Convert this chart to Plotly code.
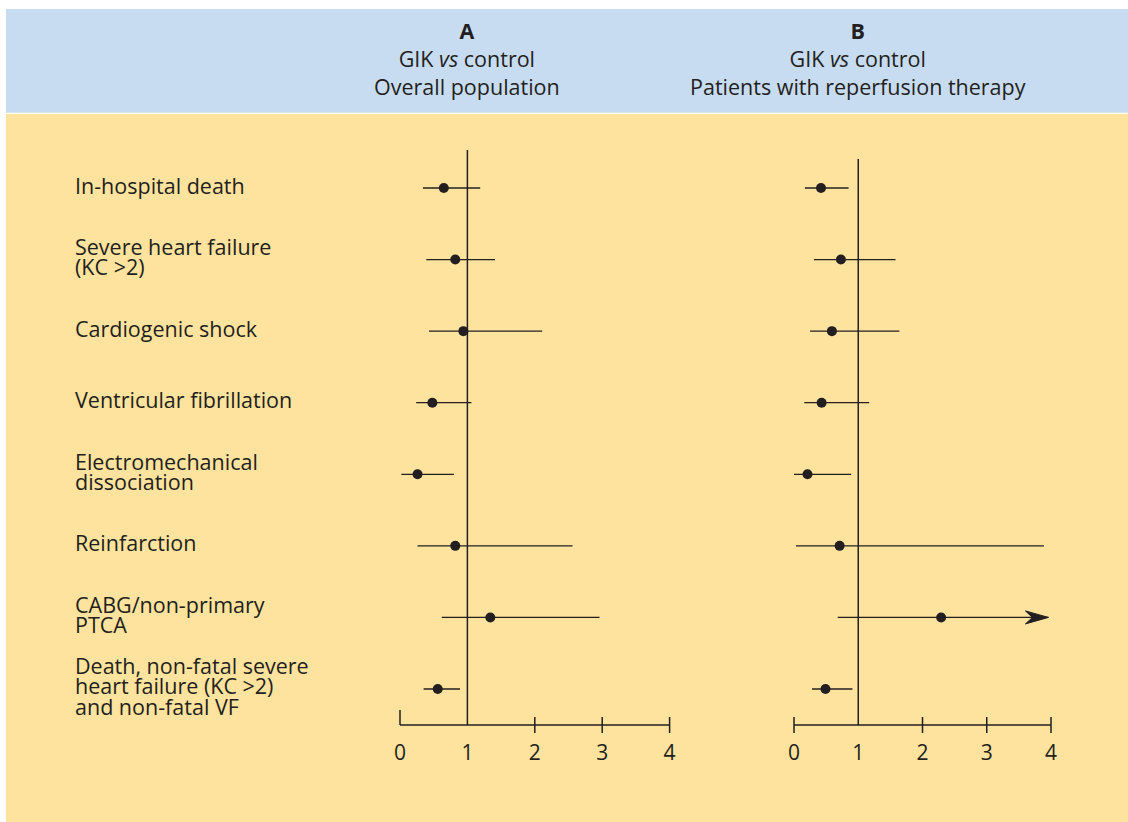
import plotly.graph_objects as go

# Outcomes (rows, top to bottom); each label broken into its printed lines
outcomes = [
    ["In-hospital death"],
    ["Severe heart failure", "(KC >2)"],
    ["Cardiogenic shock"],
    ["Ventricular fibrillation"],
    ["Electromechanical", "dissociation"],
    ["Reinfarction"],
    ["CABG/non-primary", "PTCA"],
    ["Death, non-fatal severe", "heart failure (KC >2)", "and non-fatal VF"],
]

# Panel A: GIK vs control, overall population (odds ratio with 95% CI)
a_or = [0.65, 0.82, 0.94, 0.48, 0.26, 0.82, 1.34, 0.56]
a_lo = [0.34, 0.39, 0.43, 0.24, 0.02, 0.26, 0.62, 0.35]
a_hi = [1.19, 1.41, 2.11, 1.06, 0.80, 2.56, 2.96, 0.89]

# Panel B: GIK vs control, patients with reperfusion therapy
b_or = [0.42, 0.73, 0.59, 0.43, 0.21, 0.71, 2.29, 0.49]
b_lo = [0.17, 0.31, 0.25, 0.16, 0.00, 0.03, 0.68, 0.28]
b_hi = [0.85, 1.58, 1.64, 1.17, 0.89, 3.89, 3.96, 0.91]
b_open = [False, False, False, False, False, False, True, False]  # CI runs past the axis

tick_vals = [0, 1, 2, 3, 4]
tick_text = ["0", "1", "2", "3", "4"]

headers = [
    "<b>A</b><br>GIK <i>vs</i> control<br>Overall population",
    "<b>B</b><br>GIK <i>vs</i> control<br>Patients with reperfusion therapy",
]

W, H = 1128, 822
INK = "#231F20"
BLUE = "#C8DCF1"
YELLOW = "#FDE39D"
FONT = "Open Sans"

# vertical layout (pixels from top)
row0_px, row_step = 188.0, 71.57
base_px = 725.0
n = len(outcomes)


def px_to_row(p):
    return (p - row0_px) / row_step


y_top = px_to_row(0)
y_base = px_to_row(base_px)

# horizontal layout: pixel of value 0 and pixels per unit, per panel
panels = {
    "x": dict(zero=400.0, unit=67.4),
    "x2": dict(zero=794.0, unit=64.25),
}
xr = [-0.5, 4.5]


def domain(p):
    lo = p["zero"] + xr[0] * p["unit"]
    hi = p["zero"] + xr[1] * p["unit"]
    return [lo / W, hi / W]


rows = list(range(n))
fig = go.Figure()

shapes = [
    dict(type="rect", xref="paper", yref="paper", x0=6 / W, x1=1, y0=1 - 112.7 / H, y1=1 - 9 / H,
         fillcolor=BLUE, line_width=0, layer="below"),
    dict(type="rect", xref="paper", yref="paper", x0=6 / W, x1=1, y0=0, y1=1 - 114 / H,
         fillcolor=YELLOW, line_width=0, layer="below"),
]

annotations = []

# dart-shaped arrow head, in pixels relative to the tip
DART = "M0,0 L-23,6.5 L-16,0 L-23,-6.5 Z"


def add_panel(xa, est, lo, hi, open_end, ref_top_px, zero_tick_up_only):
    # CI whiskers
    for i in rows:
        shapes.append(dict(type="line", xref=xa, yref="y", x0=lo[i], x1=hi[i], y0=i, y1=i,
                           line=dict(color=INK, width=1.3)))
        if open_end[i]:
            shapes.append(dict(type="path", xref=xa, yref="y", xsizemode="pixel", ysizemode="pixel",
                               xanchor=hi[i], yanchor=i, path=DART, fillcolor=INK,
                               line=dict(color=INK, width=1)))
    # point estimates
    fig.add_trace(go.Scatter(
        x=est, y=rows, xaxis=xa, yaxis="y", mode="markers",
        marker=dict(size=10, color=INK), hoverinfo="x", showlegend=False))
    # line of no effect
    shapes.append(dict(type="line", xref=xa, yref="y", x0=1, x1=1, y0=y_base, y1=px_to_row(ref_top_px),
                       line=dict(color=INK, width=1.5)))
    # baseline axis with crossing ticks
    shapes.append(dict(type="line", xref=xa, yref="y domain", x0=tick_vals[0], x1=tick_vals[-1], y0=0, y1=0,
                       line=dict(color=INK, width=1.5)))
    for t in tick_vals:
        if t == 1:
            continue
        if t == 0 and zero_tick_up_only:
            y0, y1 = 0, 15
        else:
            y0, y1 = -8, 8
        shapes.append(dict(type="line", xref=xa, yref="y domain", ysizemode="pixel", yanchor=0,
                           x0=t, x1=t, y0=y0, y1=y1, line=dict(color=INK, width=1.5)))


add_panel("x", a_or, a_lo, a_hi, [False] * n, 150, True)
add_panel("x2", b_or, b_lo, b_hi, b_open, 159, False)

# panel headers, centred over the line of no effect
for xa, text in zip(["x", "x2"], headers):
    annotations.append(dict(x=1, xref=xa, y=1 - 59 / H, yref="paper", text=text, showarrow=False,
                            xanchor="center", yanchor="middle", align="center",
                            font=dict(family=FONT, size=21.5, color=INK)))

# outcome labels
line_gap = 20.5
for i, lines in enumerate(outcomes):
    k = len(lines)
    for j, line in enumerate(lines):
        annotations.append(dict(x=73 / W, xref="paper", y=i, yref="y", text=line, showarrow=False,
                                xanchor="left", yanchor="middle",
                                yshift=-(j - (k - 1) / 2) * line_gap + 3,
                                font=dict(family=FONT, size=21.5, color=INK)))

axis_common = dict(range=xr, tickvals=tick_vals, ticktext=tick_text, showgrid=False, zeroline=False,
                   showline=False, ticks="", tickfont=dict(family=FONT, size=21, color=INK),
                   ticklabelstandoff=13, fixedrange=True)

fig.update_layout(
    width=W, height=H, margin=dict(l=0, r=0, t=0, b=0),
    paper_bgcolor="white", plot_bgcolor="rgba(0,0,0,0)",
    xaxis=dict(domain=domain(panels["x"]), anchor="y", **axis_common),
    xaxis2=dict(domain=domain(panels["x2"]), anchor="y", **axis_common),
    yaxis=dict(domain=[1 - base_px / H, 1], range=[y_base, y_top], visible=False, fixedrange=True),
    shapes=shapes, annotations=annotations,
)

fig.write_html("out.html")
